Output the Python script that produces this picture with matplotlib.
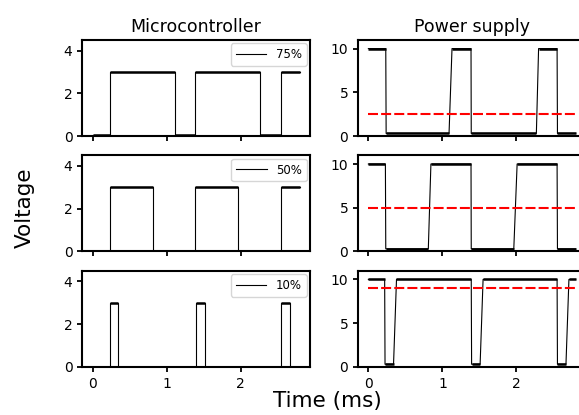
import matplotlib
matplotlib.use("Agg")
import matplotlib.pyplot as plt

# duty cycle labels for each row
duties = ["75%", "50%", "10%"]

# microcontroller PWM traces (time in ms, voltage in V)
mcu_75_t = [0, 0.23, 0.23, 1.107, 1.107, 1.387, 1.387, 2.26, 2.26, 2.55, 2.55, 2.8]
mcu_75_v = [0.06, 0.06, 3.0, 3.0, 0.03, 0.03, 3.0, 3.0, 0.06, 0.06, 3.0, 3.0]
mcu_50_t = [0, 0.23, 0.23, 0.81, 0.81, 1.387, 1.387, 1.97, 1.97, 2.55, 2.55, 2.8]
mcu_50_v = [0, 0, 3.0, 3.0, 0, 0, 3.0, 3.0, 0, 0, 3.0, 3.0]
mcu_10_t = [0, 0.23, 0.23, 0.35, 0.35, 1.40, 1.40, 1.52, 1.52, 2.55, 2.55, 2.67, 2.67, 2.8]
mcu_10_v = [0, 0, 3.0, 3.0, 0, 0, 3.0, 3.0, 0, 0, 3.0, 3.0, 0, 0]

# power supply traces (inverted, slower rising edge)
sup_75_t = [0, 0.235, 0.24, 1.09, 1.13, 1.387, 1.39, 2.27, 2.30, 2.55, 2.555, 2.8]
sup_75_v = [10, 10, 0.3, 0.3, 10, 10, 0.3, 0.3, 10, 10, 0.3, 0.3]
sup_50_t = [0, 0.23, 0.235, 0.81, 0.845, 1.387, 1.39, 1.965, 2.01, 2.55, 2.555, 2.8]
sup_50_v = [10, 10, 0.3, 0.3, 10, 10, 0.3, 0.3, 10, 10, 0.3, 0.3]
sup_10_t = [0, 0.22, 0.225, 0.34, 0.38, 1.39, 1.395, 1.51, 1.55, 2.55, 2.555, 2.67, 2.71, 2.8]
sup_10_v = [10, 10, 0.3, 0.3, 10, 10, 0.3, 0.3, 10, 10, 0.3, 0.3, 10, 10]

# average supply voltage per duty cycle
avg_volts = [2.5, 5.0, 9.0]

mcu = [(mcu_75_t, mcu_75_v), (mcu_50_t, mcu_50_v), (mcu_10_t, mcu_10_v)]
sup = [(sup_75_t, sup_75_v), (sup_50_t, sup_50_v), (sup_10_t, sup_10_v)]


def draw_trace(ax, t, v, label=None):
    ax.plot(t, v, color="black", lw=0.8, label=label)
    # plateaus look thicker because of noise on the scope
    for i in range(len(t) - 1):
        if v[i] == v[i + 1] and v[i] > 0:
            ax.plot([t[i], t[i + 1]], [v[i], v[i + 1]], color="black", lw=1.8,
                    solid_capstyle="butt")


fig, axes = plt.subplots(3, 2, figsize=(5.79, 4.15), sharex=True)
fig.subplots_adjust(left=0.142, right=1.012, top=0.904, bottom=0.116,
                    wspace=0.21, hspace=0.2)

for row in range(3):
    ax_l, ax_r = axes[row]
    t, v = mcu[row]
    draw_trace(ax_l, t, v, label=duties[row])
    ax_l.set_ylim(0, 4.5)
    ax_l.set_yticks([0, 2, 4])
    ax_l.legend(loc="upper right", fontsize=8.5, handlelength=2.6,
                borderaxespad=0.3)

    t, v = sup[row]
    draw_trace(ax_r, t, v)
    ax_r.plot([t[0], t[-1]], [avg_volts[row], avg_volts[row]], "r--", lw=1.5,
              dashes=(4.8, 1.5))
    ax_r.set_ylim(0, 11)
    ax_r.set_yticks([0, 5, 10])

    for ax in (ax_l, ax_r):
        ax.set_xticks([0, 1, 2])
        ax.tick_params(labelsize=10, width=1.3)
        for s in ax.spines.values():
            s.set_linewidth(1.5)

axes[0, 0].set_title("Microcontroller", fontsize=12.5)
axes[0, 1].set_title("Power supply", fontsize=12.5)
fig.supylabel("Voltage", fontsize=15.5, x=0.025)
fig.supxlabel("Time (ms)", fontsize=15.5, x=0.566, y=0.01)

fig.savefig("out.png", dpi=100)
